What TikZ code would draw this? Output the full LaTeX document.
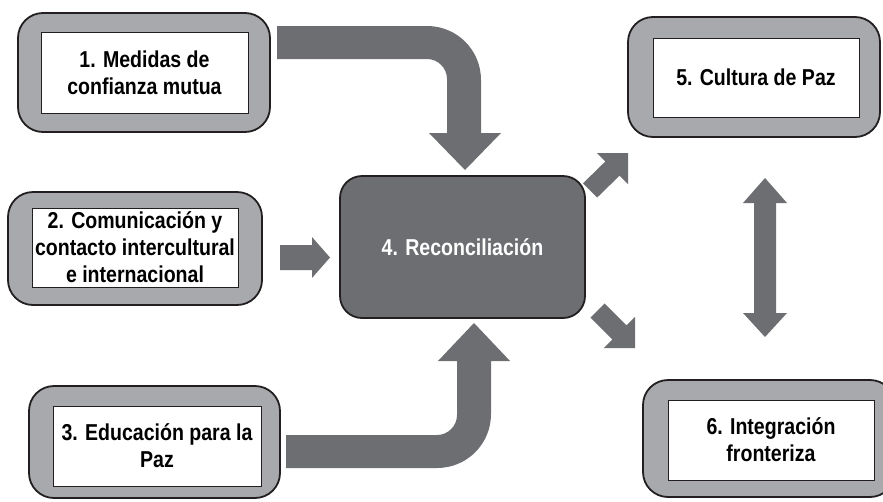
\documentclass[tikz,border=0pt]{standalone}
\usepackage{fontspec}
\setmainfont{Liberation Sans}[FakeStretch=0.85]
\definecolor{arrowgray}{HTML}{6D6E71}
\definecolor{framegray}{HTML}{A7A9AC}
\definecolor{edgeblack}{HTML}{231F20}
\begin{document}
\begin{tikzpicture}[x=1pt,y=-1pt,
  outerbox/.style={draw=edgeblack, line width=1.8pt, fill=framegray, rounded corners=25pt, inner sep=0pt},
  innerbox/.style={draw=edgeblack, line width=0.8pt, fill=white, inner sep=0pt, align=center,
     font=\fontsize{23}{27}\selectfont\bfseries, text=black},
  centerbox/.style={draw=edgeblack, line width=1.8pt, fill=arrowgray, rounded corners=22pt, inner sep=0pt,
     font=\fontsize{23}{27}\selectfont\bfseries, text=white},
  blockarrow/.style={fill=arrowgray, draw=none}]
\useasboundingbox (0,0) rectangle (883,501);
\clip (0,0) rectangle (883,501);

% outer frames
\node[outerbox, minimum width=252pt, minimum height=119pt] (o1) at (144,72.5) {};
\node[outerbox, minimum width=254pt, minimum height=113pt] (o2) at (135,248.5) {};
\node[outerbox, minimum width=251pt, minimum height=112pt] (o3) at (154.5,442) {};
\node[outerbox, minimum width=252pt, minimum height=120pt] (o5) at (754,77) {};
\node[outerbox, minimum width=252pt, minimum height=117pt] (o6) at (769,438.5) {};

% inner text boxes
\node[innerbox, minimum width=207pt, minimum height=81pt] (n1) at (144.5,72.5) {1. Medidas de\\confianza mutua};
\node[innerbox, minimum width=206pt, minimum height=79pt] (n2) at (135,247.5) {2. Comunicación y\\contacto intercultural\\e internacional};
\node[innerbox, minimum width=208pt, minimum height=80pt] (n3) at (157,446) {3. Educación para la\\Paz};
\node[innerbox, minimum width=206pt, minimum height=79pt] (n5) at (756,77.5) {5. Cultura de Paz};
\node[innerbox, minimum width=206pt, minimum height=80pt] (n6) at (771,440) {6. Integración\\fronteriza};

% center box
\node[centerbox, minimum width=245pt, minimum height=142pt] (n4) at (462.5,247) {4. Reconciliación};

% arrow 1 (curved, from box 1 down into box 4)
\fill[blockarrow] (277,26) -- (427,26) .. controls (457,26) and (481,50) .. (481,80)
  -- (481,133) -- (501,133) -- (465,170) -- (429,133) -- (447,133) -- (447,79)
  .. controls (447,68) and (438,59) .. (427,59) -- (277,59) -- cycle;

% arrow 2 (straight)
\fill[blockarrow] (280,245) -- (312,245) -- (312,237) -- (330,257.5) -- (312,278)
  -- (312,270) -- (280,270) -- cycle;

% arrow 3 (curved, from box 3 up into box 4)
\fill[blockarrow] (286,435) -- (437,435) .. controls (448,435) and (457,426) .. (457,415)
  -- (457,361) -- (438,361) -- (474,323) -- (510,361) -- (491,361) -- (491,414)
  .. controls (491,444) and (467,468) .. (437,468) -- (286,468) -- cycle;

% arrow to box 5 (up-right)
\fill[blockarrow] (582.9,183.4) -- (605.3,161.5) -- (596.8,153) -- (628,153)
  -- (628,184.2) -- (619.5,175.7) -- (597.1,197.6) -- cycle;

% arrow to box 6 (down-right)
\fill[blockarrow] (604.6,303.4) -- (626.5,325.3) -- (635,316.8) -- (635,348)
  -- (603.8,348) -- (612.3,339.5) -- (590.4,317.6) -- cycle;

% double arrow between 5 and 6
\fill[blockarrow] (765,178) -- (787,203) -- (776,203) -- (776,313) -- (787,313)
  -- (765,337) -- (743,313) -- (754,313) -- (754,203) -- (743,203) -- cycle;
\end{tikzpicture}
\end{document}
